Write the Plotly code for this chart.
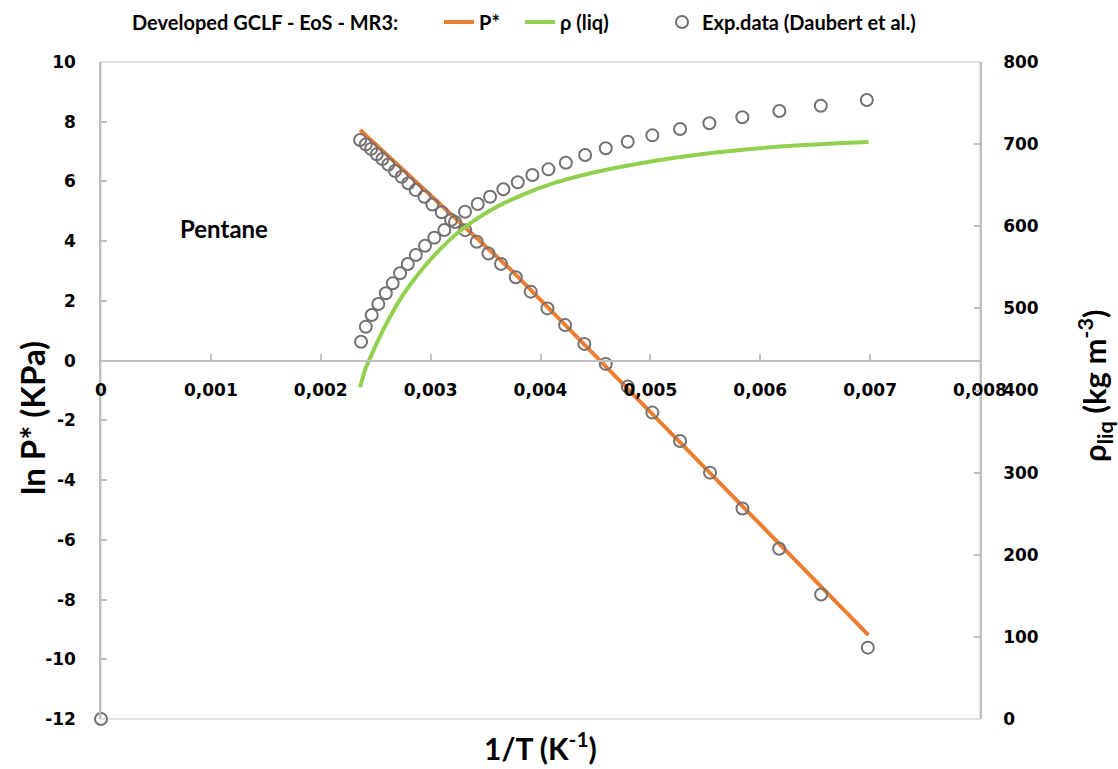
import plotly.graph_objects as go

# ---------------- data ----------------
# model curve: ln P* (left axis)
x_p_model = [0.002358, 0.002813, 0.003268, 0.003723, 0.004224, 0.004724, 0.005270, 0.005835, 0.006408, 0.006985]
lnp_model = [7.72, 6.18, 4.64, 3.07, 1.20, -0.68, -2.74, -4.87, -7.02, -9.19]

# model curve: liquid density (right axis)
x_rho_model = [0.002358, 0.002403, 0.002464, 0.002585, 0.002737, 0.002919, 0.003101, 0.003283, 0.003526,
               0.003830, 0.004133, 0.004436, 0.004679, 0.005149, 0.005753, 0.006363, 0.006985]
rho_model = [404.0, 425.0, 444.0, 478.0, 514.0, 547.0, 574.0, 596.0, 618.0,
             638.0, 653.0, 664.0, 671.0, 682.0, 692.0, 698.5, 702.5]

# experimental data (Daubert et al.): ln P*
x_p_exp = [0.002358, 0.002410, 0.002458, 0.002510, 0.002561, 0.002615, 0.002676, 0.002737, 0.002797,
           0.002865, 0.002943, 0.003016, 0.003101, 0.003186, 0.003314, 0.003420, 0.003526, 0.003641,
           0.003775, 0.003911, 0.004063, 0.004224, 0.004399, 0.004594, 0.004794, 0.005018, 0.005270,
           0.005543, 0.005838, 0.006172, 0.006554, 0.006979]
lnp_exp = [7.39, 7.24, 7.09, 6.91, 6.75, 6.57, 6.35, 6.16, 5.94,
           5.71, 5.49, 5.23, 4.97, 4.71, 4.37, 3.98, 3.59, 3.24,
           2.79, 2.31, 1.75, 1.19, 0.56, -0.11, -0.87, -1.74, -2.69,
           -3.75, -4.95, -6.30, -7.83, -9.61]

# experimental data (Daubert et al.): liquid density
x_rho_exp = [0.0, 0.002367, 0.002410, 0.002464, 0.002524, 0.002592, 0.002655, 0.002722, 0.002792, 0.002865,
             0.002949, 0.003034, 0.003125, 0.003222, 0.003313, 0.003429, 0.003541, 0.003662,
             0.003793, 0.003926, 0.004072, 0.004231, 0.004406, 0.004594, 0.004794, 0.005018,
             0.005270, 0.005537, 0.005837, 0.006174, 0.006551, 0.006970]
rho_exp = [0.0, 459.4, 477.7, 491.9, 505.3, 518.4, 530.5, 542.7, 554.0, 565.0,
           576.3, 586.1, 595.4, 605.2, 617.7, 627.1, 636.0, 645.0,
           653.5, 662.4, 669.3, 677.4, 686.8, 694.9, 702.9, 710.7,
           718.4, 725.4, 732.7, 740.3, 746.8, 753.7]

x_tickvals = [0, 0.001, 0.002, 0.003, 0.004, 0.005, 0.006, 0.007, 0.008]
x_ticktext = ["0", "0,001", "0,002", "0,003", "0,004", "0,005", "0,006", "0,007", "0,008"]
y_tickvals = [-12, -10, -8, -6, -4, -2, 0, 2, 4, 6, 8, 10]
y_ticktext = ["-12", "-10", "-8", "-6", "-4", "-2", "0", "2", "4", "6", "8", "10"]
y2_tickvals = [0, 100, 200, 300, 400, 500, 600, 700, 800]
y2_ticktext = ["0", "100", "200", "300", "400", "500", "600", "700", "800"]

# ---------------- styles ----------------
ORANGE = "#ED7D31"
GREEN = "#92D050"
GREY_MARK = "#767171"
AXIS = "#BFBFBF"
TICKFONT = dict(family="DejaVu Sans", size=17, color="black", weight="bold")
TF = "Lato"
LEGFONT = dict(family=TF, size=20, color="black", weight="bold")
W, H = 1118, 769


def cx(px):
    return px / W


def cy(py):
    return 1 - py / H


fig = go.Figure()
fig.add_trace(go.Scatter(x=x_p_model, y=lnp_model, mode="lines", name="P*",
                         line=dict(color=ORANGE, width=4), yaxis="y", legend="legend"))
fig.add_trace(go.Scatter(x=x_rho_model, y=rho_model, mode="lines", name="ρ (liq)",
                         line=dict(color=GREEN, width=4, shape="spline", smoothing=0.6), yaxis="y2",
                         legend="legend2"))
fig.add_trace(go.Scatter(x=x_rho_exp, y=rho_exp, mode="markers", name="Exp.data (Daubert et al.)",
                         marker=dict(symbol="circle-open", size=12, color=GREY_MARK,
                                     line=dict(width=2, color=GREY_MARK)),
                         yaxis="y2", cliponaxis=False, legend="legend3"))
fig.add_trace(go.Scatter(x=x_p_exp, y=lnp_exp, mode="markers", name="Exp.data (Daubert et al.)",
                         marker=dict(symbol="circle-open", size=12, color=GREY_MARK,
                                     line=dict(width=2, color=GREY_MARK)),
                         yaxis="y", showlegend=False))

axis_common = dict(showline=True, linecolor=AXIS, linewidth=1.5, ticks="inside", ticklen=6,
                   tickcolor=AXIS, tickwidth=1.5, showgrid=False, zeroline=False,
                   tickfont=TICKFONT, automargin=False)

leg_common = dict(orientation="h", xref="container", yref="container", xanchor="left",
                  yanchor="middle", font=LEGFONT, bgcolor="rgba(0,0,0,0)", borderwidth=0,
                  itemwidth=30)

fig.update_layout(
    width=W, height=H,
    margin=dict(l=101, r=138, t=62, b=50, autoexpand=False),
    paper_bgcolor="white", plot_bgcolor="white",
    xaxis=dict(range=[0, 0.008], anchor="free", position=12 / 22,
               tickvals=x_tickvals, ticktext=x_ticktext, ticklabelstandoff=14, **axis_common),
    yaxis=dict(range=[-12, 10], tickvals=y_tickvals, ticktext=y_ticktext,
               ticklabelstandoff=20, **axis_common),
    yaxis2=dict(range=[0, 800], tickvals=y2_tickvals, ticktext=y2_ticktext,
                overlaying="y", side="right", anchor="x", ticklabelstandoff=18, **axis_common),
    showlegend=True,
    legend=dict(x=cx(439), y=cy(22), **leg_common),
    legend2=dict(x=cx(520), y=cy(22), **leg_common),
    legend3=dict(x=cx(662), y=cy(22), **leg_common),
    shapes=[dict(type="rect", xref="x domain", yref="y domain", x0=0, x1=1, y0=0, y1=1,
                 line=dict(color="#D9D9D9", width=1.5), layer="below")],
    annotations=[
        dict(text="Developed GCLF - EoS - MR3:", xref="paper", yref="paper",
             x=(130 - 101) / 879, y=(719 - 22) / 657,
             xanchor="left", yanchor="middle", showarrow=False, font=LEGFONT),
        dict(text="Pentane", xref="paper", yref="paper", x=(224 - 101) / 879, y=(719 - 228) / 657,
             xanchor="center", yanchor="middle", showarrow=False,
             font=dict(family=TF, size=24, color="black", weight="bold")),
        dict(text="1/T (K<sup>-1</sup>)", xref="paper", yref="paper",
             x=(540 - 101) / 879, y=(719 - 746) / 657,
             xanchor="center", yanchor="middle", showarrow=False,
             font=dict(family=TF, size=30, color="black", weight="bold")),
        dict(text="ln P* (KPa)", xref="paper", yref="paper",
             x=(32 - 101) / 879, y=(719 - 418) / 657,
             xanchor="center", yanchor="middle", showarrow=False, textangle=-90,
             font=dict(family=TF, size=33, color="black", weight="bold")),
        dict(text="ρ<sub>liq</sub> (kg m<sup>-3</sup>)", xref="paper", yref="paper",
             x=(1095 - 101) / 879, y=(719 - 386) / 657,
             xanchor="center", yanchor="middle", showarrow=False, textangle=-90,
             font=dict(family=TF, size=31, color="black", weight="bold")),
    ],
)

fig.write_html("out.html", config={"displayModeBar": False},
               post_script="document.body.style.margin='0';document.body.style.overflow='hidden';")
